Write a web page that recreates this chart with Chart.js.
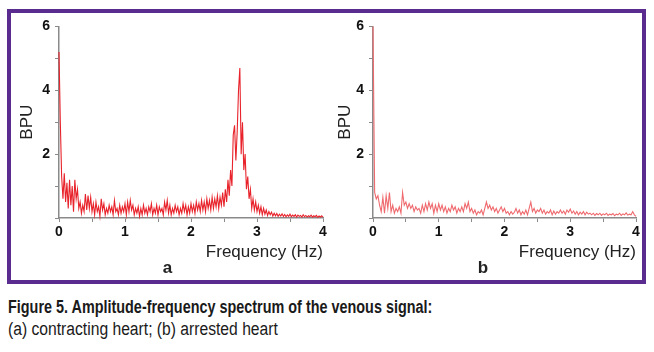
<!DOCTYPE html>
<html>
<head>
<meta charset="utf-8">
<script src="https://cdn.jsdelivr.net/npm/chart.js@4/dist/chart.umd.min.js"></script>
<style>
  body { margin: 0; width: 654px; height: 352px; background: #fff; position: relative; overflow: hidden; }
  #frame { position: absolute; left: 7px; top: 9px; width: 639px; height: 275px; box-sizing: border-box; border: 4px solid #5b2c8f; }
  .box { position: absolute; top: 13px; height: 265px; }
  #boxA { left: 12px; width: 318px; }
  #boxB { left: 330px; width: 312px; }
  .cap { position: absolute; left: 8px; font-family: 'Liberation Sans', Arial, sans-serif; font-size: 18px; color: #1a1a1a; white-space: nowrap; transform-origin: 0 50%; }
  #cap1 { top: 297px; font-weight: bold; transform: scaleX(0.80); }
  #cap2 { top: 319px; transform: scaleX(0.87); }
</style>
</head>
<body>
<div id="frame"></div>
<div class="box" id="boxA"><canvas id="chartA"></canvas></div>
<div class="box" id="boxB"><canvas id="chartB"></canvas></div>
<div class="cap" id="cap1">Figure 5. Amplitude-frequency spectrum of the venous signal:</div>
<div class="cap" id="cap2">(a) contracting heart; (b) arrested heart</div>
<script>
// spectrum a (contracting heart), one value every 0.02 Hz from 0 to 4 Hz
var stepA = 0.02;
var bpuA = [
  5.2, 3.0, 1.3, 0.6, 1.4, 0.5, 1.1, 0.3, 1.2, 0.4,
  1.0, 0.2, 1.2, 0.6, 0.9, 0.3, 0.5, 0.15, 0.4, 0.2,
  0.75, 0.25, 0.7, 0.3, 0.65, 0.2, 0.45, 0.1, 0.5, 0.2,
  0.35, 0.05, 0.6, 0.25, 0.45, 0.1, 0.3, 0.15, 0.4, 0.2,
  0.35, 0.1, 0.55, 0.2, 0.3, 0.1, 0.4, 0.15, 0.35, 0.2,
  0.45, 0.1, 0.5, 0.2, 0.55, 0.25, 0.4, 0.1, 0.3, 0.15,
  0.35, 0.05, 0.3, 0.1, 0.4, 0.15, 0.3, 0.1, 0.35, 0.2,
  0.45, 0.1, 0.3, 0.15, 0.4, 0.1, 0.35, 0.2, 0.3, 0.1,
  0.5, 0.25, 0.55, 0.15, 0.4, 0.1, 0.3, 0.15, 0.4, 0.2,
  0.35, 0.1, 0.3, 0.15, 0.45, 0.2, 0.4, 0.1, 0.35, 0.15,
  0.45, 0.2, 0.4, 0.15, 0.5, 0.25, 0.45, 0.2, 0.55, 0.25,
  0.5, 0.2, 0.6, 0.3, 0.55, 0.25, 0.65, 0.3, 0.6, 0.35,
  0.7, 0.3, 0.65, 0.4, 0.8, 0.35, 0.9, 0.5, 1.2, 0.7,
  1.5, 1.0, 2.6, 2.9, 1.8, 2.7, 4.0, 4.7, 2.0, 3.0,
  1.5, 2.0, 0.9, 1.3, 0.6, 0.9, 0.3, 0.6, 0.25, 0.5,
  0.2, 0.4, 0.15, 0.35, 0.1, 0.3, 0.12, 0.25, 0.08, 0.2,
  0.1, 0.18, 0.06, 0.15, 0.07, 0.14, 0.05, 0.12, 0.06, 0.13,
  0.05, 0.11, 0.04, 0.1, 0.05, 0.12, 0.04, 0.09, 0.05, 0.1,
  0.03, 0.09, 0.05, 0.08, 0.03, 0.1, 0.04, 0.08, 0.03, 0.07,
  0.04, 0.09, 0.03, 0.07, 0.04, 0.08, 0.02, 0.06, 0.03, 0.07,
  0.03
];

// spectrum b (arrested heart), one value every 0.025 Hz from 0 to 4 Hz
var stepB = 0.025;
var bpuB = [
  6.0, 0.8, 0.6, 0.7, 0.4, 0.2, 0.65, 0.15, 0.7, 0.3,
  0.8, 0.2, 0.4, 0.15, 0.3, 0.2, 0.35, 0.15, 0.8, 0.4,
  0.5, 0.3, 0.45, 0.3, 0.4, 0.2, 0.35, 0.25, 0.3, 0.15,
  0.4, 0.2, 0.45, 0.25, 0.5, 0.3, 0.45, 0.15, 0.4, 0.2,
  0.45, 0.25, 0.4, 0.2, 0.35, 0.15, 0.3, 0.2, 0.4, 0.25,
  0.35, 0.15, 0.3, 0.2, 0.35, 0.2, 0.45, 0.3, 0.5, 0.2,
  0.3, 0.15, 0.25, 0.1, 0.2, 0.15, 0.25, 0.1, 0.3, 0.5,
  0.3, 0.4, 0.25, 0.35, 0.2, 0.3, 0.15, 0.25, 0.35, 0.2,
  0.3, 0.15, 0.2, 0.1, 0.2, 0.12, 0.18, 0.3, 0.15, 0.25,
  0.1, 0.2, 0.12, 0.25, 0.1, 0.3, 0.5, 0.2, 0.3, 0.15,
  0.25, 0.2, 0.3, 0.15, 0.25, 0.12, 0.2, 0.15, 0.25, 0.1,
  0.22, 0.12, 0.2, 0.15, 0.25, 0.15, 0.22, 0.12, 0.25, 0.18,
  0.28, 0.15, 0.22, 0.12, 0.2, 0.1, 0.18, 0.12, 0.2, 0.1,
  0.18, 0.12, 0.15, 0.1, 0.15, 0.08, 0.14, 0.1, 0.15, 0.08,
  0.13, 0.1, 0.15, 0.08, 0.12, 0.1, 0.14, 0.07, 0.12, 0.1,
  0.15, 0.08, 0.13, 0.1, 0.16, 0.09, 0.12, 0.1, 0.2, 0.1,
  0.05
];

var xTicks = [0, 1, 2, 3, 4];
var yTicks = [2, 4, 6];

function points(vals, step) {
  return vals.map(function (v, i) { return { x: +(i * step).toFixed(3), y: v }; });
}

var axisGray = '#8a8a8a';
var tickFont = { family: 'Liberation Sans, Arial, sans-serif', size: 14, weight: 'bold' };
var titleFont = { family: 'Liberation Sans, Arial, sans-serif', size: 17, lineHeight: 1.2 };

function makeChart(id, vals, step, color, yWidth, padRight, letter) {
  return new Chart(id, {
    type: 'line',
    data: {
      datasets: [{
        data: points(vals, step),
        borderColor: color,
        borderWidth: 1.1,
        pointRadius: 0,
        tension: 0,
        fill: false,
        clip: false
      }]
    },
    options: {
      responsive: true,
      maintainAspectRatio: false,
      animation: false,
      layout: { padding: { top: 11, right: padRight, bottom: 1, left: 0 } },
      plugins: {
        legend: { display: false },
        tooltip: { enabled: false },
        title: {
          display: true,
          position: 'bottom',
          text: letter,
          color: '#222',
          padding: 0,
          font: { family: 'Liberation Sans, Arial, sans-serif', size: 17, weight: 'bold', lineHeight: 1 }
        }
      },
      scales: {
        x: {
          type: 'linear',
          min: 0,
          max: 4,
          afterFit: function (s) { s.height = 42; },
          ticks: {
            stepSize: 0.5,
            autoSkip: false,
            maxRotation: 0,
            padding: 2,
            color: '#111',
            font: tickFont,
            callback: function (v) { return xTicks.indexOf(v) >= 0 ? String(v) : ''; }
          },
          grid: { drawOnChartArea: false, tickLength: 4, color: axisGray },
          border: { color: axisGray, width: 1.5 },
          title: { display: true, text: 'Frequency (Hz)', align: 'end', color: '#222', font: titleFont, padding: { top: 0, bottom: -3 } }
        },
        y: {
          min: 0,
          max: 6,
          afterFit: function (s) { s.width = yWidth; },
          ticks: {
            stepSize: 1,
            autoSkip: false,
            padding: 5,
            color: '#111',
            font: tickFont,
            callback: function (v) { return yTicks.indexOf(v) >= 0 ? String(v) : ''; }
          },
          grid: { drawOnChartArea: false, tickLength: 4, color: axisGray },
          border: { color: axisGray, width: 1.5 },
          title: { display: true, text: 'BPU', color: '#222', font: titleFont, padding: { top: 5, bottom: 0 } }
        }
      }
    }
  });
}

makeChart('chartA', bpuA, stepA, '#e8232b', 47, 7, 'a');
makeChart('chartB', bpuB, stepB, '#ef6a6e', 43, 6, 'b');
</script>
</body>
</html>
